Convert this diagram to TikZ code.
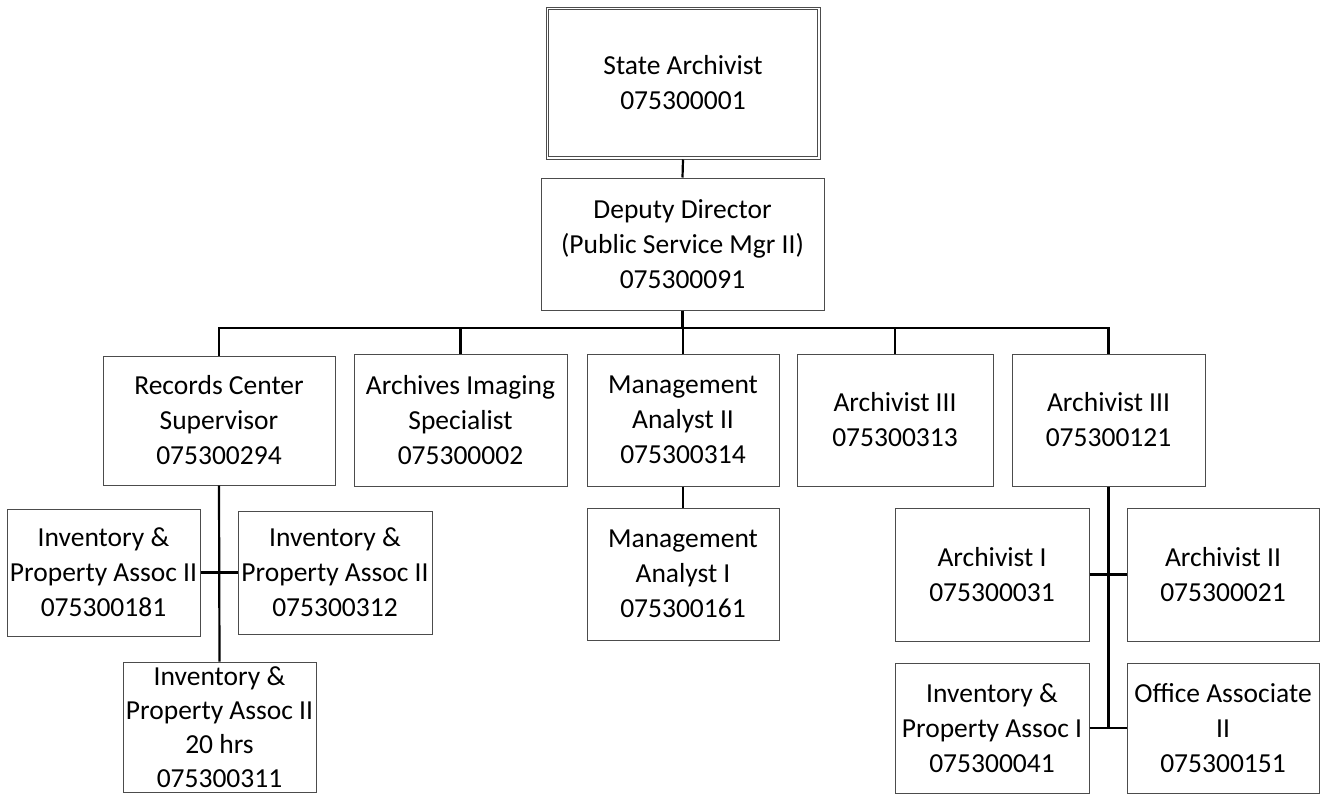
\documentclass[tikz,border=0pt]{standalone}
\usepackage{fontspec}
\setmainfont{Carlito}
\begin{document}
\begin{tikzpicture}[x=1pt,y=-1pt,
  box/.style={draw=black!70, line width=1pt, rectangle, inner sep=0pt, align=center,
    font=\fontsize{27.5}{35}\selectfont, text=black},
  link/.style={draw=black, line width=2.2pt}]
\useasboundingbox (0,0) rectangle (1320,795);
% top
\node[box, minimum width=274pt, minimum height=152pt] (sa) at (683,83) {State Archivist\\075300001};
\draw[draw=black!70, line width=1pt] ([shift={(3pt,-3pt)}]sa.north west) rectangle ([shift={(-3pt,3pt)}]sa.south east);
\node[box, minimum width=283pt, minimum height=132pt] (dd) at (682.5,244) {Deputy Director\\(Public Service Mgr II)\\075300091};
% row 2
\node[box, minimum width=232pt, minimum height=129pt] (rc) at (219,420.5) {Records Center\\Supervisor\\075300294};
\node[box, minimum width=213pt, minimum height=132pt] (ai) at (460.5,420) {Archives Imaging\\Specialist\\075300002};
\node[box, minimum width=192pt, minimum height=132pt] (ma2) at (683,420) {Management\\Analyst II\\075300314};
\node[box, minimum width=196pt, minimum height=132pt] (a313) at (895,420) {Archivist III\\075300313};
\node[box, minimum width=193pt, minimum height=132pt] (a121) at (1108.5,420) {Archivist III\\075300121};
% row 3
\node[box, minimum width=192pt, minimum height=132pt] (ma1) at (683,574) {Management\\Analyst I\\075300161};
\node[box, minimum width=193pt, minimum height=127pt] (i181) at (103.5,572.5) {Inventory \&\\Property Assoc II\\075300181};
\node[box, minimum width=194pt, minimum height=123pt] (i312) at (335,572.5) {Inventory \&\\Property Assoc II\\075300312};
\node[box, minimum width=193pt, minimum height=130pt, font=\fontsize{27.5}{34}\selectfont] (i311) at (219.5,727) {Inventory \&\\Property Assoc II\\20 hrs\\075300311};
\node[box, minimum width=194pt, minimum height=133pt] (a1) at (992,574.5) {Archivist I\\075300031};
\node[box, minimum width=192pt, minimum height=133pt] (a2) at (1223,574.5) {Archivist II\\075300021};
\node[box, minimum width=194pt, minimum height=130pt] (ia1) at (992,728) {Inventory \&\\Property Assoc I\\075300041};
\node[box, minimum width=192pt, minimum height=130pt] (oa2) at (1223,728) {Office Associate\\II\\075300151};
% connectors
\coordinate (bus) at (683,328);
\draw[link] (sa.south) -- (dd.north);
\draw[link] (dd.south) -- (dd.south |- bus);
\draw[link] (rc.north) |- (bus) -| (a121.north);
\draw[link] (ai.north) -- (ai.north |- bus);
\draw[link] (ma2.north) -- (ma2.north |- bus);
\draw[link] (a313.north) -- (a313.north |- bus);
\draw[link] (rc.south) -- (i311.north);
\draw[link] (i181.east) -- (i312.west);
\draw[link] (ma2.south) -- (ma1.north);
\draw[link] (a121.south) -- (a121.south |- ia1.east);
\draw[link] (a1.east) -- (a2.west);
\draw[link] (ia1.east) -- (oa2.west);
\end{tikzpicture}
\end{document}
